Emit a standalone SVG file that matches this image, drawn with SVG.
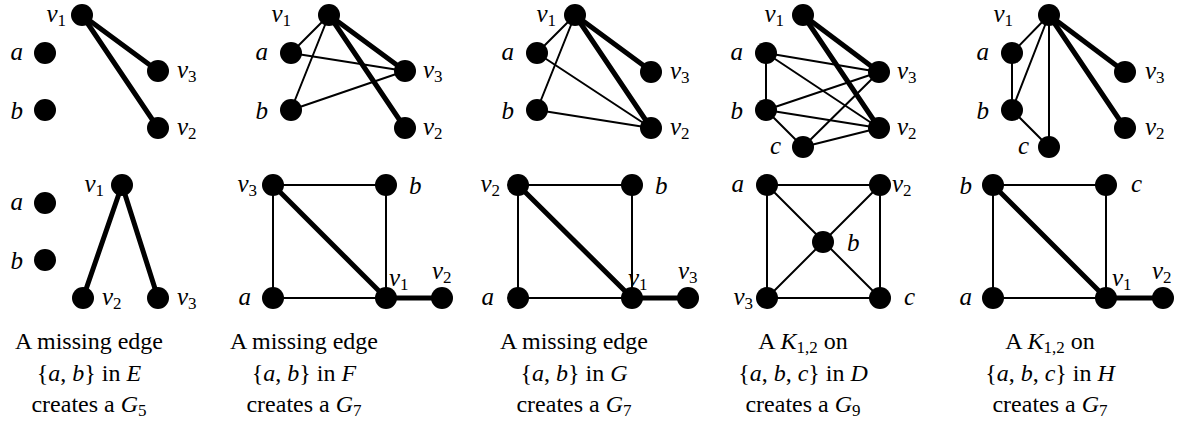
<svg xmlns="http://www.w3.org/2000/svg" width="1183" height="423" viewBox="0 0 1183 423" font-family="Liberation Serif, Times New Roman, serif">
<defs>
<style>
.n{fill:#000}
.t{stroke:#000;stroke-width:2;fill:none;stroke-linecap:round}
.k{stroke:#000;stroke-width:5;fill:none;stroke-linecap:round}
</style>
</defs>
<rect x="0" y="0" width="1183" height="423" fill="#fff"/>
<g id="connectors">
  <g id="e-top1">
    <line class="k" x1="82" y1="15" x2="158" y2="71"/>
    <line class="k" x1="82" y1="15" x2="158" y2="128"/>
  </g>
  <g id="e-top2">
    <line class="t" x1="329" y1="15" x2="291" y2="53"/>
    <line class="t" x1="329" y1="15" x2="291" y2="110"/>
    <line class="t" x1="291" y1="53" x2="405" y2="71"/>
    <line class="t" x1="291" y1="110" x2="405" y2="71"/>
    <line class="k" x1="329" y1="15" x2="405" y2="71"/>
    <line class="k" x1="329" y1="15" x2="405" y2="128"/>
  </g>
  <g id="e-top3">
    <line class="t" x1="575" y1="15" x2="537" y2="53"/>
    <line class="t" x1="575" y1="15" x2="537" y2="110"/>
    <line class="t" x1="537" y1="53" x2="651" y2="128"/>
    <line class="t" x1="537" y1="110" x2="651" y2="128"/>
    <line class="k" x1="575" y1="15" x2="651" y2="71"/>
    <line class="k" x1="575" y1="15" x2="651" y2="128"/>
  </g>
  <g id="e-top4">
    <line class="t" x1="766" y1="53" x2="766" y2="110"/>
    <line class="t" x1="766" y1="53" x2="879" y2="72"/>
    <line class="t" x1="766" y1="53" x2="879" y2="128"/>
    <line class="t" x1="766" y1="110" x2="879" y2="72"/>
    <line class="t" x1="766" y1="110" x2="879" y2="128"/>
    <line class="t" x1="766" y1="110" x2="803" y2="147"/>
    <line class="t" x1="803" y1="147" x2="879" y2="72"/>
    <line class="t" x1="803" y1="147" x2="879" y2="128"/>
    <line class="k" x1="803" y1="15" x2="879" y2="72"/>
    <line class="k" x1="803" y1="15" x2="879" y2="128"/>
  </g>
  <g id="e-top5">
    <line class="t" x1="1049" y1="15" x2="1012" y2="53"/>
    <line class="t" x1="1049" y1="15" x2="1012" y2="110"/>
    <line class="t" x1="1049" y1="15" x2="1049" y2="147"/>
    <line class="t" x1="1012" y1="53" x2="1012" y2="110"/>
    <line class="t" x1="1012" y1="110" x2="1049" y2="147"/>
    <line class="k" x1="1049" y1="15" x2="1125" y2="72"/>
    <line class="k" x1="1049" y1="15" x2="1125" y2="128"/>
  </g>
  <g id="e-bot1">
    <line class="k" x1="122" y1="185" x2="83" y2="298"/>
    <line class="k" x1="122" y1="185" x2="158" y2="298"/>
  </g>
  <g id="e-bot2">
    <line class="t" x1="273" y1="185" x2="386" y2="185"/>
    <line class="t" x1="273" y1="185" x2="273" y2="298"/>
    <line class="t" x1="386" y1="185" x2="386" y2="298"/>
    <line class="t" x1="273" y1="298" x2="386" y2="298"/>
    <line class="k" x1="273" y1="185" x2="386" y2="298"/>
    <line class="k" x1="386" y1="298" x2="442" y2="298"/>
  </g>
  <g id="e-bot3">
    <line class="t" x1="518" y1="185" x2="632" y2="185"/>
    <line class="t" x1="518" y1="185" x2="518" y2="298"/>
    <line class="t" x1="632" y1="185" x2="632" y2="298"/>
    <line class="t" x1="518" y1="298" x2="632" y2="298"/>
    <line class="k" x1="518" y1="185" x2="632" y2="298"/>
    <line class="k" x1="632" y1="298" x2="688" y2="298"/>
  </g>
  <g id="e-bot4">
    <line class="t" x1="767" y1="185" x2="880" y2="185"/>
    <line class="t" x1="767" y1="185" x2="767" y2="298"/>
    <line class="t" x1="880" y1="185" x2="880" y2="298"/>
    <line class="t" x1="767" y1="298" x2="880" y2="298"/>
    <line class="t" x1="767" y1="185" x2="880" y2="298"/>
    <line class="t" x1="880" y1="185" x2="767" y2="298"/>
  </g>
  <g id="e-bot5">
    <line class="t" x1="993" y1="185" x2="1106" y2="185"/>
    <line class="t" x1="993" y1="185" x2="993" y2="298"/>
    <line class="t" x1="1106" y1="185" x2="1106" y2="298"/>
    <line class="t" x1="993" y1="298" x2="1106" y2="298"/>
    <line class="k" x1="993" y1="185" x2="1106" y2="298"/>
    <line class="k" x1="1106" y1="298" x2="1163" y2="298"/>
  </g>
</g>

<g id="t1-v1"><circle class="n" cx="82" cy="15" r="11"/><text x="66" y="22" text-anchor="end" font-family="Liberation Serif, Times New Roman, serif" font-size="25" font-style="italic">v<tspan font-style="normal" font-size="17" dy="4">1</tspan></text></g>
<g id="t1-a"><circle class="n" cx="45" cy="53" r="11"/><text x="23" y="60" text-anchor="end" font-family="Liberation Serif, Times New Roman, serif" font-size="25" font-style="italic">a</text></g>
<g id="t1-b"><circle class="n" cx="45" cy="110" r="11"/><text x="23" y="119" text-anchor="end" font-family="Liberation Serif, Times New Roman, serif" font-size="25" font-style="italic">b</text></g>
<g id="t1-v3"><circle class="n" cx="158" cy="71" r="11"/><text x="177" y="78" font-family="Liberation Serif, Times New Roman, serif" font-size="25" font-style="italic">v<tspan font-style="normal" font-size="17" dy="4">3</tspan></text></g>
<g id="t1-v2"><circle class="n" cx="158" cy="128" r="11"/><text x="177" y="135" font-family="Liberation Serif, Times New Roman, serif" font-size="25" font-style="italic">v<tspan font-style="normal" font-size="17" dy="4">2</tspan></text></g>

<g id="t2-v1"><circle class="n" cx="329" cy="15" r="11"/><text x="291" y="22" text-anchor="end" font-family="Liberation Serif, Times New Roman, serif" font-size="25" font-style="italic">v<tspan font-style="normal" font-size="17" dy="4">1</tspan></text></g>
<g id="t2-a"><circle class="n" cx="291" cy="53" r="11"/><text x="268" y="60" text-anchor="end" font-family="Liberation Serif, Times New Roman, serif" font-size="25" font-style="italic">a</text></g>
<g id="t2-b"><circle class="n" cx="291" cy="110" r="11"/><text x="268" y="119" text-anchor="end" font-family="Liberation Serif, Times New Roman, serif" font-size="25" font-style="italic">b</text></g>
<g id="t2-v3"><circle class="n" cx="405" cy="71" r="11"/><text x="423" y="78" font-family="Liberation Serif, Times New Roman, serif" font-size="25" font-style="italic">v<tspan font-style="normal" font-size="17" dy="4">3</tspan></text></g>
<g id="t2-v2"><circle class="n" cx="405" cy="128" r="11"/><text x="423" y="135" font-family="Liberation Serif, Times New Roman, serif" font-size="25" font-style="italic">v<tspan font-style="normal" font-size="17" dy="4">2</tspan></text></g>

<g id="t3-v1"><circle class="n" cx="575" cy="15" r="11"/><text x="556" y="22" text-anchor="end" font-family="Liberation Serif, Times New Roman, serif" font-size="25" font-style="italic">v<tspan font-style="normal" font-size="17" dy="4">1</tspan></text></g>
<g id="t3-a"><circle class="n" cx="537" cy="53" r="11"/><text x="514" y="60" text-anchor="end" font-family="Liberation Serif, Times New Roman, serif" font-size="25" font-style="italic">a</text></g>
<g id="t3-b"><circle class="n" cx="537" cy="110" r="11"/><text x="514" y="119" text-anchor="end" font-family="Liberation Serif, Times New Roman, serif" font-size="25" font-style="italic">b</text></g>
<g id="t3-v3"><circle class="n" cx="651" cy="72" r="11"/><text x="670" y="79" font-family="Liberation Serif, Times New Roman, serif" font-size="25" font-style="italic">v<tspan font-style="normal" font-size="17" dy="4">3</tspan></text></g>
<g id="t3-v2"><circle class="n" cx="651" cy="128" r="11"/><text x="670" y="135" font-family="Liberation Serif, Times New Roman, serif" font-size="25" font-style="italic">v<tspan font-style="normal" font-size="17" dy="4">2</tspan></text></g>

<g id="t4-v1"><circle class="n" cx="803" cy="15" r="11"/><text x="784" y="22" text-anchor="end" font-family="Liberation Serif, Times New Roman, serif" font-size="25" font-style="italic">v<tspan font-style="normal" font-size="17" dy="4">1</tspan></text></g>
<g id="t4-a"><circle class="n" cx="766" cy="53" r="11"/><text x="743" y="60" text-anchor="end" font-family="Liberation Serif, Times New Roman, serif" font-size="25" font-style="italic">a</text></g>
<g id="t4-b"><circle class="n" cx="766" cy="110" r="11"/><text x="743" y="119" text-anchor="end" font-family="Liberation Serif, Times New Roman, serif" font-size="25" font-style="italic">b</text></g>
<g id="t4-c"><circle class="n" cx="803" cy="147" r="11"/><text x="781" y="154" text-anchor="end" font-family="Liberation Serif, Times New Roman, serif" font-size="25" font-style="italic">c</text></g>
<g id="t4-v3"><circle class="n" cx="879" cy="72" r="11"/><text x="897" y="79" font-family="Liberation Serif, Times New Roman, serif" font-size="25" font-style="italic">v<tspan font-style="normal" font-size="17" dy="4">3</tspan></text></g>
<g id="t4-v2"><circle class="n" cx="879" cy="128" r="11"/><text x="897" y="135" font-family="Liberation Serif, Times New Roman, serif" font-size="25" font-style="italic">v<tspan font-style="normal" font-size="17" dy="4">2</tspan></text></g>

<g id="t5-v1"><circle class="n" cx="1049" cy="15" r="11"/><text x="1013" y="22" text-anchor="end" font-family="Liberation Serif, Times New Roman, serif" font-size="25" font-style="italic">v<tspan font-style="normal" font-size="17" dy="4">1</tspan></text></g>
<g id="t5-a"><circle class="n" cx="1012" cy="53" r="11"/><text x="989" y="60" text-anchor="end" font-family="Liberation Serif, Times New Roman, serif" font-size="25" font-style="italic">a</text></g>
<g id="t5-b"><circle class="n" cx="1012" cy="110" r="11"/><text x="989" y="119" text-anchor="end" font-family="Liberation Serif, Times New Roman, serif" font-size="25" font-style="italic">b</text></g>
<g id="t5-c"><circle class="n" cx="1049" cy="147" r="11"/><text x="1029" y="154" text-anchor="end" font-family="Liberation Serif, Times New Roman, serif" font-size="25" font-style="italic">c</text></g>
<g id="t5-v3"><circle class="n" cx="1125" cy="72" r="11"/><text x="1145" y="79" font-family="Liberation Serif, Times New Roman, serif" font-size="25" font-style="italic">v<tspan font-style="normal" font-size="17" dy="4">3</tspan></text></g>
<g id="t5-v2"><circle class="n" cx="1125" cy="128" r="11"/><text x="1145" y="135" font-family="Liberation Serif, Times New Roman, serif" font-size="25" font-style="italic">v<tspan font-style="normal" font-size="17" dy="4">2</tspan></text></g>

<g id="b1-v1"><circle class="n" cx="122" cy="185" r="11"/><text x="104" y="192" text-anchor="end" font-family="Liberation Serif, Times New Roman, serif" font-size="25" font-style="italic">v<tspan font-style="normal" font-size="17" dy="4">1</tspan></text></g>
<g id="b1-a"><circle class="n" cx="45" cy="203" r="11"/><text x="23" y="210" text-anchor="end" font-family="Liberation Serif, Times New Roman, serif" font-size="25" font-style="italic">a</text></g>
<g id="b1-b"><circle class="n" cx="45" cy="260" r="11"/><text x="23" y="269" text-anchor="end" font-family="Liberation Serif, Times New Roman, serif" font-size="25" font-style="italic">b</text></g>
<g id="b1-v2"><circle class="n" cx="83" cy="298" r="11"/><text x="102" y="305" font-family="Liberation Serif, Times New Roman, serif" font-size="25" font-style="italic">v<tspan font-style="normal" font-size="17" dy="4">2</tspan></text></g>
<g id="b1-v3"><circle class="n" cx="158" cy="298" r="11"/><text x="177" y="305" font-family="Liberation Serif, Times New Roman, serif" font-size="25" font-style="italic">v<tspan font-style="normal" font-size="17" dy="4">3</tspan></text></g>

<g id="b2-v3"><circle class="n" cx="273" cy="185" r="11"/><text x="257" y="192" text-anchor="end" font-family="Liberation Serif, Times New Roman, serif" font-size="25" font-style="italic">v<tspan font-style="normal" font-size="17" dy="4">3</tspan></text></g>
<g id="b2-b"><circle class="n" cx="386" cy="185" r="11"/><text x="409" y="194" font-family="Liberation Serif, Times New Roman, serif" font-size="25" font-style="italic">b</text></g>
<g id="b2-a"><circle class="n" cx="273" cy="298" r="11"/><text x="251" y="305" text-anchor="end" font-family="Liberation Serif, Times New Roman, serif" font-size="25" font-style="italic">a</text></g>
<g id="b2-v1"><circle class="n" cx="386" cy="298" r="11"/><text x="389" y="286" font-family="Liberation Serif, Times New Roman, serif" font-size="25" font-style="italic">v<tspan font-style="normal" font-size="17" dy="4">1</tspan></text></g>
<g id="b2-v2"><circle class="n" cx="442" cy="298" r="11"/><text x="432" y="279" font-family="Liberation Serif, Times New Roman, serif" font-size="25" font-style="italic">v<tspan font-style="normal" font-size="17" dy="4">2</tspan></text></g>

<g id="b3-v2"><circle class="n" cx="518" cy="185" r="11"/><text x="500" y="192" text-anchor="end" font-family="Liberation Serif, Times New Roman, serif" font-size="25" font-style="italic">v<tspan font-style="normal" font-size="17" dy="4">2</tspan></text></g>
<g id="b3-b"><circle class="n" cx="632" cy="185" r="11"/><text x="655" y="194" font-family="Liberation Serif, Times New Roman, serif" font-size="25" font-style="italic">b</text></g>
<g id="b3-a"><circle class="n" cx="518" cy="298" r="11"/><text x="494" y="305" text-anchor="end" font-family="Liberation Serif, Times New Roman, serif" font-size="25" font-style="italic">a</text></g>
<g id="b3-v1"><circle class="n" cx="632" cy="298" r="11"/><text x="628" y="286" font-family="Liberation Serif, Times New Roman, serif" font-size="25" font-style="italic">v<tspan font-style="normal" font-size="17" dy="4">1</tspan></text></g>
<g id="b3-v3"><circle class="n" cx="688" cy="298" r="11"/><text x="678" y="279" font-family="Liberation Serif, Times New Roman, serif" font-size="25" font-style="italic">v<tspan font-style="normal" font-size="17" dy="4">3</tspan></text></g>

<g id="b4-a"><circle class="n" cx="767" cy="185" r="11"/><text x="744" y="192" text-anchor="end" font-family="Liberation Serif, Times New Roman, serif" font-size="25" font-style="italic">a</text></g>
<g id="b4-v2"><circle class="n" cx="880" cy="185" r="11"/><text x="892" y="192" font-family="Liberation Serif, Times New Roman, serif" font-size="25" font-style="italic">v<tspan font-style="normal" font-size="17" dy="4">2</tspan></text></g>
<g id="b4-b"><circle class="n" cx="823" cy="242" r="11"/><text x="847" y="251" font-family="Liberation Serif, Times New Roman, serif" font-size="25" font-style="italic">b</text></g>
<g id="b4-v3"><circle class="n" cx="767" cy="298" r="11"/><text x="753" y="305" text-anchor="end" font-family="Liberation Serif, Times New Roman, serif" font-size="25" font-style="italic">v<tspan font-style="normal" font-size="17" dy="4">3</tspan></text></g>
<g id="b4-c"><circle class="n" cx="880" cy="298" r="11"/><text x="904" y="305" font-family="Liberation Serif, Times New Roman, serif" font-size="25" font-style="italic">c</text></g>

<g id="b5-b"><circle class="n" cx="993" cy="185" r="11"/><text x="972" y="194" text-anchor="end" font-family="Liberation Serif, Times New Roman, serif" font-size="25" font-style="italic">b</text></g>
<g id="b5-c"><circle class="n" cx="1106" cy="185" r="11"/><text x="1131" y="192" font-family="Liberation Serif, Times New Roman, serif" font-size="25" font-style="italic">c</text></g>
<g id="b5-a"><circle class="n" cx="993" cy="298" r="11"/><text x="972" y="305" text-anchor="end" font-family="Liberation Serif, Times New Roman, serif" font-size="25" font-style="italic">a</text></g>
<g id="b5-v1"><circle class="n" cx="1106" cy="298" r="11"/><text x="1112" y="286" font-family="Liberation Serif, Times New Roman, serif" font-size="25" font-style="italic">v<tspan font-style="normal" font-size="17" dy="4">1</tspan></text></g>
<g id="b5-v2"><circle class="n" cx="1163" cy="298" r="11"/><text x="1152" y="279" font-family="Liberation Serif, Times New Roman, serif" font-size="25" font-style="italic">v<tspan font-style="normal" font-size="17" dy="4">2</tspan></text></g>

<g id="cap1">
  <text x="89" y="349" text-anchor="middle" font-family="Liberation Serif, Times New Roman, serif" font-size="24">A missing edge</text>
  <text x="89" y="381" text-anchor="middle" font-family="Liberation Serif, Times New Roman, serif" font-size="24">{<tspan font-style="italic">a</tspan>, <tspan font-style="italic">b</tspan>} in <tspan font-style="italic">E</tspan></text>
  <text x="89" y="412" text-anchor="middle" font-family="Liberation Serif, Times New Roman, serif" font-size="24">creates a <tspan font-style="italic">G</tspan><tspan font-size="17" dy="4">5</tspan></text>
</g>
<g id="cap2">
  <text x="304" y="349" text-anchor="middle" font-family="Liberation Serif, Times New Roman, serif" font-size="24">A missing edge</text>
  <text x="304" y="381" text-anchor="middle" font-family="Liberation Serif, Times New Roman, serif" font-size="24">{<tspan font-style="italic">a</tspan>, <tspan font-style="italic">b</tspan>} in <tspan font-style="italic">F</tspan></text>
  <text x="304" y="412" text-anchor="middle" font-family="Liberation Serif, Times New Roman, serif" font-size="24">creates a <tspan font-style="italic">G</tspan><tspan font-size="17" dy="4">7</tspan></text>
</g>
<g id="cap3">
  <text x="574" y="349" text-anchor="middle" font-family="Liberation Serif, Times New Roman, serif" font-size="24">A missing edge</text>
  <text x="574" y="381" text-anchor="middle" font-family="Liberation Serif, Times New Roman, serif" font-size="24">{<tspan font-style="italic">a</tspan>, <tspan font-style="italic">b</tspan>} in <tspan font-style="italic">G</tspan></text>
  <text x="574" y="412" text-anchor="middle" font-family="Liberation Serif, Times New Roman, serif" font-size="24">creates a <tspan font-style="italic">G</tspan><tspan font-size="17" dy="4">7</tspan></text>
</g>
<g id="cap4">
  <text x="803" y="349" text-anchor="middle" font-family="Liberation Serif, Times New Roman, serif" font-size="24">A <tspan font-style="italic">K</tspan><tspan font-size="17" dy="4">1,2</tspan><tspan dy="-4"> on</tspan></text>
  <text x="803" y="381" text-anchor="middle" font-family="Liberation Serif, Times New Roman, serif" font-size="24">{<tspan font-style="italic">a</tspan>, <tspan font-style="italic">b</tspan>, <tspan font-style="italic">c</tspan>} in <tspan font-style="italic">D</tspan></text>
  <text x="803" y="412" text-anchor="middle" font-family="Liberation Serif, Times New Roman, serif" font-size="24">creates a <tspan font-style="italic">G</tspan><tspan font-size="17" dy="4">9</tspan></text>
</g>
<g id="cap5">
  <text x="1050" y="349" text-anchor="middle" font-family="Liberation Serif, Times New Roman, serif" font-size="24">A <tspan font-style="italic">K</tspan><tspan font-size="17" dy="4">1,2</tspan><tspan dy="-4"> on</tspan></text>
  <text x="1050" y="381" text-anchor="middle" font-family="Liberation Serif, Times New Roman, serif" font-size="24">{<tspan font-style="italic">a</tspan>, <tspan font-style="italic">b</tspan>, <tspan font-style="italic">c</tspan>} in <tspan font-style="italic">H</tspan></text>
  <text x="1050" y="412" text-anchor="middle" font-family="Liberation Serif, Times New Roman, serif" font-size="24">creates a <tspan font-style="italic">G</tspan><tspan font-size="17" dy="4">7</tspan></text>
</g>
</svg>
